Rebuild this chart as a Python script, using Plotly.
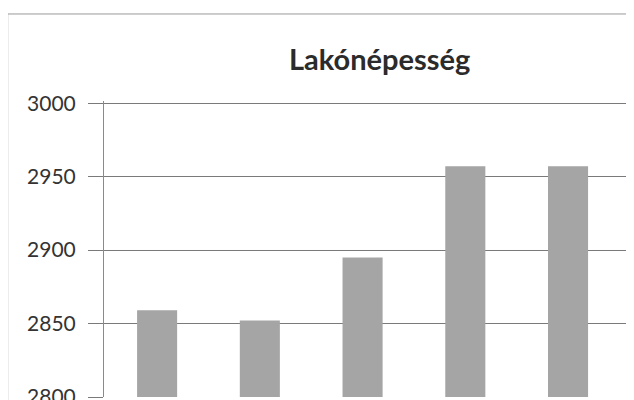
import plotly.graph_objects as go

# data (x labels are cropped away in the reference)
categories = ["1", "2", "3", "4", "5"]
population = [2859, 2852, 2895, 2957, 2957]
tick_values = [2800, 2850, 2900, 2950, 3000]
title_text = "Lakónépesség"

fig = go.Figure()

fig.add_trace(go.Bar(
    x=categories,
    y=population,
    marker=dict(color="#a5a5a5", line=dict(width=0)),
    width=0.39,
))

# plot area continues past the right/bottom edge of the cropped scan
fig.update_xaxes(
    range=[-0.517, 4.72],
    showticklabels=False,
    showgrid=False,
    zeroline=False,
    showline=False,
)

fig.update_yaxes(
    range=[2800, 3001.5],
    tickvals=tick_values,
    showgrid=True,
    gridcolor="#7a7a7a",
    gridwidth=1,
    zeroline=False,
    showline=True,
    linecolor="#8a8a8a",
    linewidth=1,
    ticks="outside",
    ticklen=15,
    tickcolor="#7a7a7a",
    ticklabelstandoff=8,
    ticklabeloverflow="allow",
    tickfont=dict(family="Lato", size=21, color="#333333"),
)

# outer chart frame
fig.add_shape(type="rect", xref="paper", yref="paper",
              x0=-0.179, y0=-0.2, x1=1.1, y1=1.294,
              line=dict(color="#9a9a9a", width=1), layer="below")

fig.add_annotation(
    text="<b>" + title_text + "</b>",
    xref="paper", yref="paper",
    x=0.513, y=1.145,
    xanchor="center", yanchor="middle",
    showarrow=False,
    font=dict(family="Lato", size=29, color="#2b2b2b"),
)

fig.update_layout(
    width=634,
    height=400,
    margin=dict(l=96, r=0, t=93, b=2),
    plot_bgcolor="white",
    paper_bgcolor="white",
    showlegend=False,
)

fig.write_html("out.html")
